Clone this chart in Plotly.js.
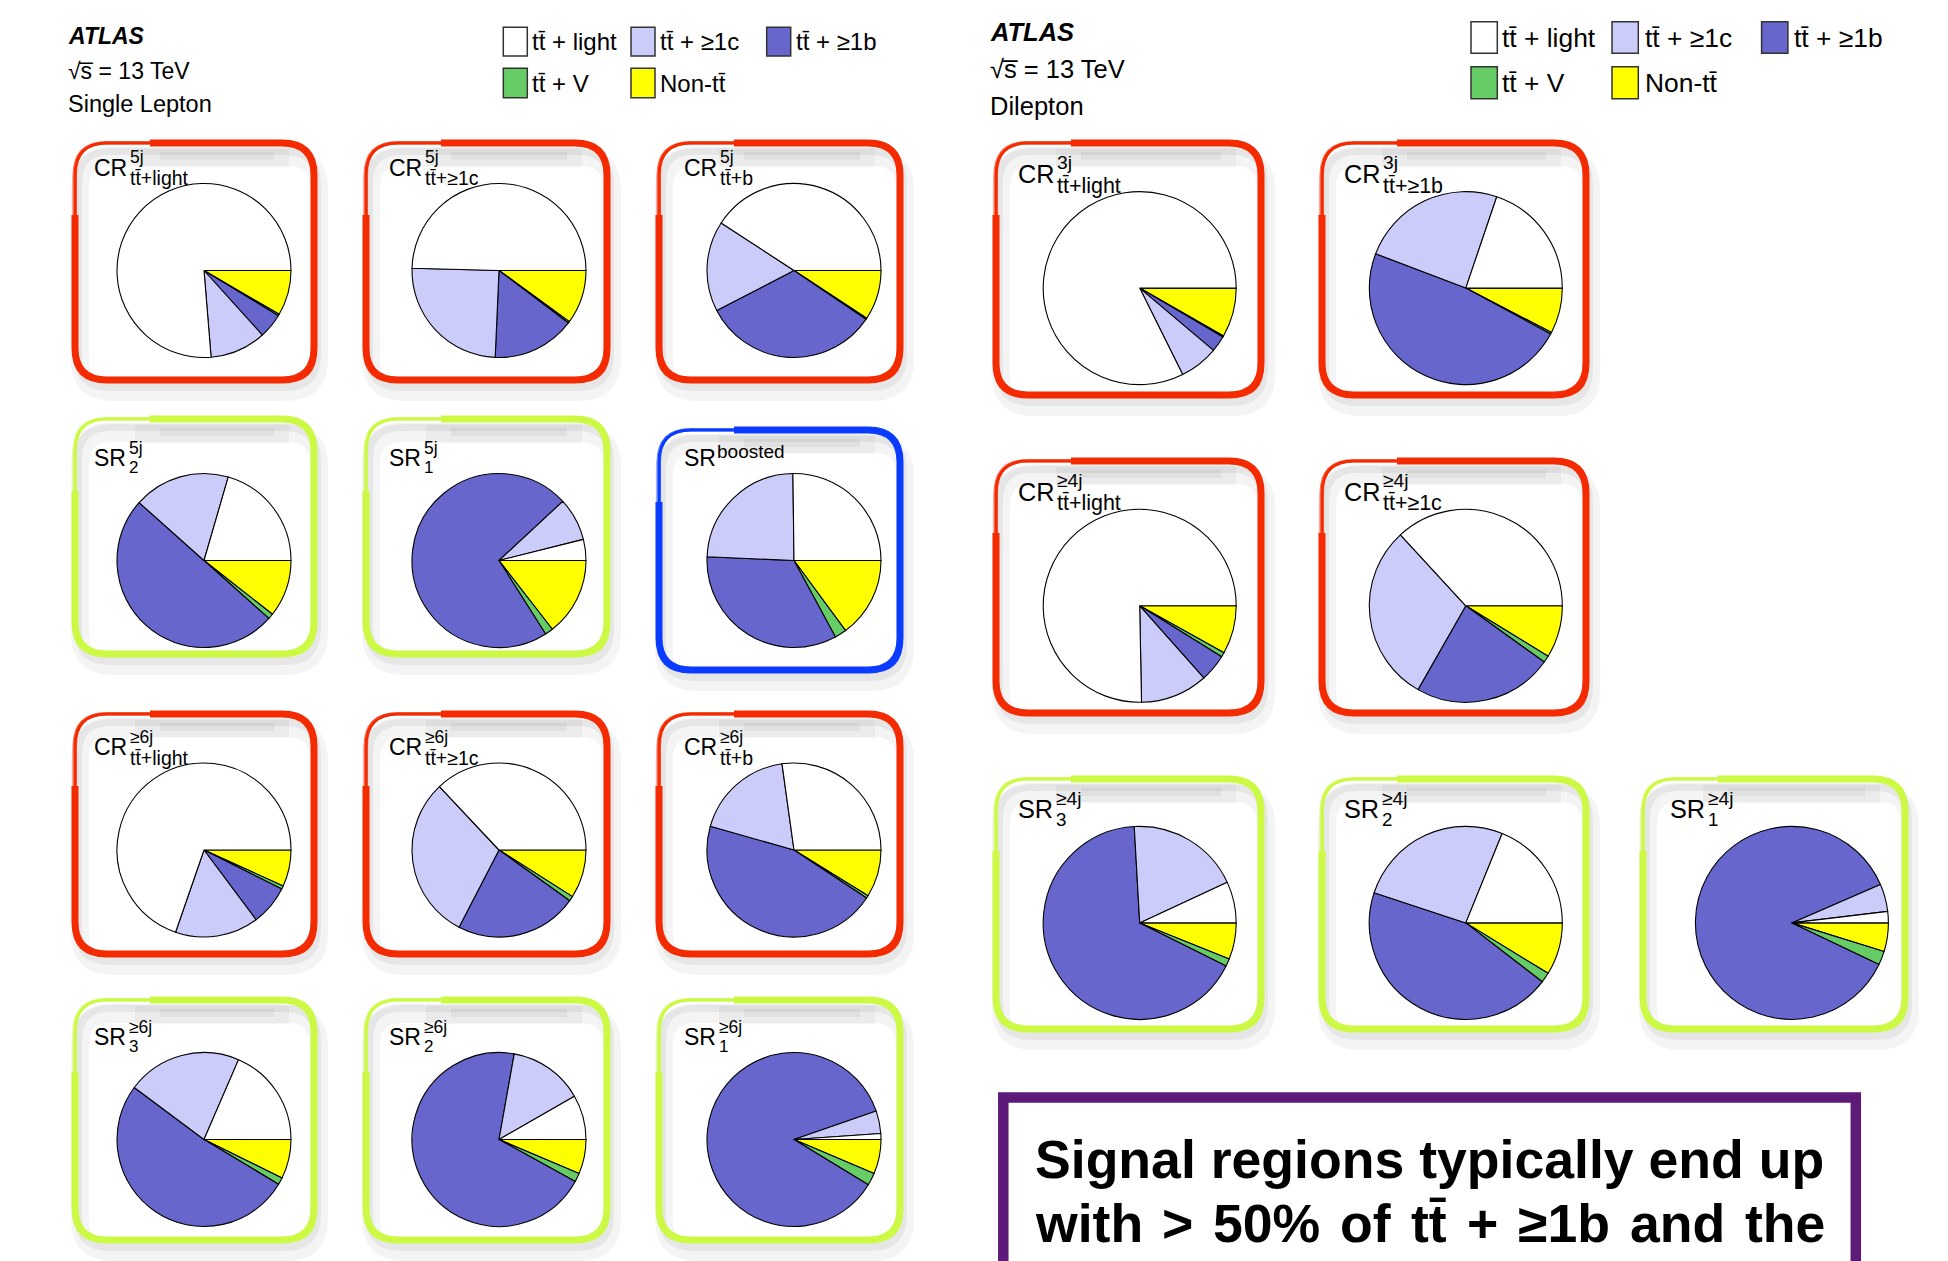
<!DOCTYPE html>
<html>
<head>
<meta charset="utf-8">
<script src="https://cdn.plot.ly/plotly-3.0.1.min.js"></script>
<style>html,body{margin:0;padding:0;background:#fff}#chart{width:1948px;height:1261px}</style>
</head>
<body>
<div id="chart"></div>
<script>
// ---------------- DATA (percent of each region) ----------------
const regionNames = [
  'CR5j_ttlight','CR5j_tt1c','CR5j_ttb',
  'SR5j_2','SR5j_1','SRboosted',
  'CR6j_ttlight','CR6j_tt1c','CR6j_ttb',
  'SR6j_3','SR6j_2','SR6j_1',
  'CR3j_ttlight','CR3j_tt1b',
  'CR4j_ttlight','CR4j_tt1c',
  'SR4j_3','SR4j_2','SR4j_1'
];
const nonTT   = [8.4, 10.0, 9.25, 10.6, 14.5, 14.9, 6.8, 9.0, 8.8, 7.3, 6.4, 6.4, 8.25, 7.6, 8.1, 8.75, 6.1, 8.75, 4.8];
const ttV     = [0.3, 0.3, 0.25, 1.0, 1.5, 2.2, 0.6, 0.9, 0.5, 1.3, 1.6, 2.3, 0.2, 0.3, 0.75, 1.15, 1.25, 1.7, 2.3];
const ttB     = [4.6, 15.4, 32.9, 50.0, 72.1, 33.6, 7.4, 22.7, 45.1, 51.6, 69.8, 86.0, 2.7, 47.9, 4.6, 23.35, 66.75, 44.6, 86.4];
const ttC     = [10.4, 24.7, 16.8, 17.9, 8.0, 24.1, 15.5, 30.4, 18.4, 21.3, 13.9, 4.2, 6.5, 24.4, 11.25, 29.9, 19.0, 26.1, 4.6];
const ttLight = [76.3, 49.6, 40.8, 20.5, 3.9, 25.2, 69.7, 37.0, 27.2, 18.5, 8.3, 1.1, 82.35, 19.8, 75.3, 36.85, 6.9, 18.85, 1.9];

// slice order (clockwise from 3 o'clock)
const sliceLabels = ['Non-tt̄', 'tt̄ + V', 'tt̄ + ≥1b', 'tt̄ + ≥1c', 'tt̄ + light'];

// region label texts
const labelMain = ['CR','CR','CR','SR','SR','SR','CR','CR','CR','SR','SR','SR','CR','CR','CR','CR','SR','SR','SR'];
const labelSup  = ['5j','5j','5j','5j','5j','boosted','≥6j','≥6j','≥6j','≥6j','≥6j','≥6j','3j','3j','≥4j','≥4j','≥4j','≥4j','≥4j'];
const labelSub  = ['tt̄+light','tt̄+≥1c','tt̄+b','2','1','','tt̄+light','tt̄+≥1c','tt̄+b','3','2','1','tt̄+light','tt̄+≥1b','tt̄+light','tt̄+≥1c','3','2','1'];

// legend
const legendLabels = ['tt̄ + light', 'tt̄ + ≥1c', 'tt̄ + ≥1b', 'tt̄ + V', 'Non-tt̄'];

// statement
const statementLine1 = 'Signal regions typically end up';
const statementLine2 = ['with', '>', '50%', 'of', 'tt̄', '+', '≥1b', 'and', 'the'];

// ---------------- STYLE / LAYOUT ----------------
const W = 1948, H = 1261;
const FONT = 'Liberation Sans, Arial, Helvetica, sans-serif';
const C_LIGHT = '#ffffff', C_C = '#ccccfa', C_B = '#6666cc', C_V = '#66cc66', C_NON = '#ffff00';
const sliceColors = [C_NON, C_V, C_B, C_C, C_LIGHT];
const legendColors = [C_LIGHT, C_C, C_B, C_V, C_NON];
const RED = '#f42a00', LIME = '#ccfa44', BLUE = '#0a3cff';

// pie geometry (px): [cx, cy, r, scale]
const SLx = [204, 499, 794], SLy = [270.5, 560.5, 850, 1139.5];
const DLx = [1139.7, 1465.8, 1791.9], DLy = [288.1, 605.8, 922.9];
const pieGeo = [];
for (let r = 0; r < 4; r++) for (let c = 0; c < 3; c++) pieGeo.push([SLx[c], SLy[r], 87, 1.0]);
pieGeo.push([DLx[0], DLy[0], 96.5, 1.1], [DLx[1], DLy[0], 96.5, 1.1]);
pieGeo.push([DLx[0], DLy[1], 96.5, 1.1], [DLx[1], DLy[1], 96.5, 1.1]);
pieGeo.push([DLx[0], DLy[2], 96.5, 1.1], [DLx[1], DLy[2], 96.5, 1.1], [DLx[2], DLy[2], 96.5, 1.1]);

// frames [x0,y0,x1,y1,color]
const frames = [
  [75,143,314,380,RED],[366,143,607,380,RED],[659,143,900,380,RED],
  [75,419,314,654,LIME],[366,419,607,654,LIME],[659,430,900,670,BLUE],
  [75,714,314,954,RED],[366,714,607,954,RED],[659,714,900,954,RED],
  [75,1000,314,1240,LIME],[366,1000,607,1240,LIME],[659,1000,900,1240,LIME],
  [996,143,1261,395,RED],[1322,143,1586,395,RED],
  [996,461,1261,713,RED],[1322,461,1586,713,RED],
  [996,779,1261,1029,LIME],[1322,779,1586,1029,LIME],[1643,779,1905,1029,LIME]
];

const px = x => x / W;
const py = y => 1 - y / H;
const P = (x, y) => px(x).toFixed(5) + ',' + py(y).toFixed(5);

function txt(s, x, base, size, opts) {
  return Object.assign({
    text: s, x: px(x), y: py(base - 0.3465 * size), xref: 'paper', yref: 'paper',
    xanchor: 'left', yanchor: 'middle', showarrow: false, borderpad: 0,
    font: { family: FONT, size: size, color: '#000' }
  }, opts || {});
}

// ---------------- TRACES ----------------
const traces = regionNames.map((name, i) => {
  const [cx, cy, r] = pieGeo[i];
  return {
    type: 'pie', name: name, sort: false, direction: 'clockwise', rotation: 90,
    values: [nonTT[i], ttV[i], ttB[i], ttC[i], ttLight[i]],
    labels: sliceLabels, textinfo: 'none', showlegend: false,
    hovertemplate: name + '<br>%{label}: %{percent}<extra></extra>',
    marker: { colors: sliceColors, line: { color: '#000', width: 1.1 } },
    domain: { x: [px(cx - r), px(cx + r)], y: [py(cy + r), py(cy - r)] }
  };
});

// ---------------- SHAPES ----------------
const shapes = [];
function rr(x0, y0, x1, y1, r) {
  return 'M' + P(x0 + r, y0) + 'L' + P(x1 - r, y0) + 'Q' + P(x1, y0) + ' ' + P(x1, y0 + r) +
    'L' + P(x1, y1 - r) + 'Q' + P(x1, y1) + ' ' + P(x1 - r, y1) +
    'L' + P(x0 + r, y1) + 'Q' + P(x0, y1) + ' ' + P(x0, y1 - r) +
    'L' + P(x0, y0 + r) + 'Q' + P(x0, y0) + ' ' + P(x0 + r, y0) + 'Z';
}
function thickPart(x0, y0, x1, y1, r) {
  return 'M' + P(x0 + 75, y0) + 'L' + P(x1 - r, y0) + 'Q' + P(x1, y0) + ' ' + P(x1, y0 + r) +
    'L' + P(x1, y1 - r) + 'Q' + P(x1, y1) + ' ' + P(x1 - r, y1) +
    'L' + P(x0 + r, y1) + 'Q' + P(x0, y1) + ' ' + P(x0, y1 - r) +
    'L' + P(x0, y0 + r + 40);
}
const NOFILL = 'rgba(0,0,0,0)';
frames.forEach(([x0, y0, x1, y1, col]) => {
  const R = 32;
  // drop shadows
  shapes.push({ type: 'path', xref: 'paper', yref: 'paper', layer: 'below', path: rr(x0 + 5, y0 + 14, x1 + 5, y1 + 12, R), line: { color: 'rgba(0,0,0,0.045)', width: 18 }, fillcolor: NOFILL });
  shapes.push({ type: 'path', xref: 'paper', yref: 'paper', layer: 'below', path: rr(x0 + 3, y0 + 8, x1 + 3, y1 + 7, R), line: { color: 'rgba(0,0,0,0.055)', width: 8 }, fillcolor: NOFILL });
  // inner top shadow (soft)
  shapes.push({ type: 'line', xref: 'paper', yref: 'paper', layer: 'below', x0: px(x0 + 60), x1: px(x1 - 25), y0: py(y0 + 15), y1: py(y0 + 15), line: { color: 'rgba(0,0,0,0.035)', width: 18 } });
  shapes.push({ type: 'line', xref: 'paper', yref: 'paper', layer: 'below', x0: px(x0 + 85), x1: px(x1 - 40), y0: py(y0 + 13), y1: py(y0 + 13), line: { color: 'rgba(0,0,0,0.045)', width: 8 } });
  // sketchy frame strokes
  shapes.push({ type: 'path', xref: 'paper', yref: 'paper', path: rr(x0, y0, x1, y1, R), line: { color: col, width: 3 }, fillcolor: NOFILL });
  shapes.push({ type: 'path', xref: 'paper', yref: 'paper', path: rr(x0 - 2, y0 - 1.5, x1 - 1, y1 - 1, R + 2), line: { color: col, width: 1.2 }, fillcolor: NOFILL, opacity: 0.6 });
  shapes.push({ type: 'path', xref: 'paper', yref: 'paper', path: rr(x0 + 1.5, y0 + 1, x1 + 2, y1 + 2, R - 2), line: { color: col, width: 1.2 }, fillcolor: NOFILL, opacity: 0.6 });
  shapes.push({ type: 'path', xref: 'paper', yref: 'paper', path: thickPart(x0, y0, x1, y1, R), line: { color: col, width: 7 }, fillcolor: NOFILL });
});

// legend boxes
const legSL = { bx: [503.3, 631, 766.7], bw: 24, rows: [[27.3, 56], [68.3, 97.7]], tx: [531, 659, 795], base: [50, 92], fs: 24 };
const legDL = { bx: [1471, 1612, 1761.6], bw: 26.3, rows: [[21.7, 53.3], [66.7, 98.7]], tx: [1501, 1644, 1793], base: [46.7, 92], fs: 26.4 };
const legSlots = [[0, 0], [0, 1], [0, 2], [1, 0], [1, 1]];
const annotations = [];
[legSL, legDL].forEach(L => {
  legendLabels.forEach((lab, k) => {
    const [row, col] = legSlots[k];
    shapes.push({ type: 'rect', xref: 'paper', yref: 'paper', x0: px(L.bx[col]), x1: px(L.bx[col] + L.bw), y0: py(L.rows[row][1]), y1: py(L.rows[row][0]), fillcolor: legendColors[k], line: { color: '#333', width: 1.5 } });
    annotations.push(txt(lab, L.tx[col], L.base[row], L.fs));
  });
});

// purple text box
shapes.push({ type: 'rect', xref: 'paper', yref: 'paper', x0: px(1003.3), x1: px(1855.8), y0: py(1320), y1: py(1097.5), fillcolor: NOFILL, line: { color: '#5e1a78', width: 10.5 } });

// ---------------- ANNOTATIONS ----------------
// headers
annotations.push(txt('<b><i>ATLAS</i></b>', 67, 43.5, 23));
annotations.push(txt('√s̅ = 13 TeV', 67, 78.5, 23));
annotations.push(txt('Single Lepton', 67, 112, 23.5));
annotations.push(txt('<b><i>ATLAS</i></b>', 989, 40.5, 25.5));
annotations.push(txt('√s̅ = 13 TeV', 989, 77.5, 25.5));
annotations.push(txt('Dilepton', 989, 115, 25.5));

// region labels
regionNames.forEach((n, i) => {
  const [cx, cy, r, s] = pieGeo[i];
  const fMain = 23 * s, fSup = 17.5 * s;
  const isCR = labelMain[i] === 'CR';
  const fSub = (isCR ? 19.5 : 17) * s;
  const x0 = cx - 1.276 * r;
  const base = cy - 1.092 * r;
  const mw = fMain * (isCR ? 1.444 : 1.389);
  annotations.push(txt(labelMain[i], x0, base, fMain));
  if (labelSup[i] === 'boosted') {
    annotations.push(txt(labelSup[i], x0 + mw + 1, base - 7 * s, 19 * s));
  } else {
    annotations.push(txt(labelSup[i], x0 + mw + 3 * s, base - (isCR ? 12 : 11) * s, fSup));
  }
  if (labelSub[i]) annotations.push(txt(labelSub[i], x0 + mw + 3 * s, base + (isCR ? 9.5 : 8) * s, fSub));
});

// bottom statement (justified line 2)
const BF = 53.6;
annotations.push(txt('<b>' + statementLine1 + '</b>', 1034, 1178, BF));
const line2x = [1034, 1161, 1212, 1339, 1410, 1466, 1517, 1629, 1744];
statementLine2.forEach((w, k) => annotations.push(txt('<b>' + w + '</b>', line2x[k], 1242, BF)));

const layout = {
  width: W, height: H, margin: { l: 0, r: 0, t: 0, b: 0 },
  paper_bgcolor: '#ffffff', plot_bgcolor: '#ffffff', showlegend: false,
  shapes: shapes, annotations: annotations, font: { family: FONT }
};
Plotly.newPlot('chart', traces, layout, { displayModeBar: false });
</script>
</body>
</html>
